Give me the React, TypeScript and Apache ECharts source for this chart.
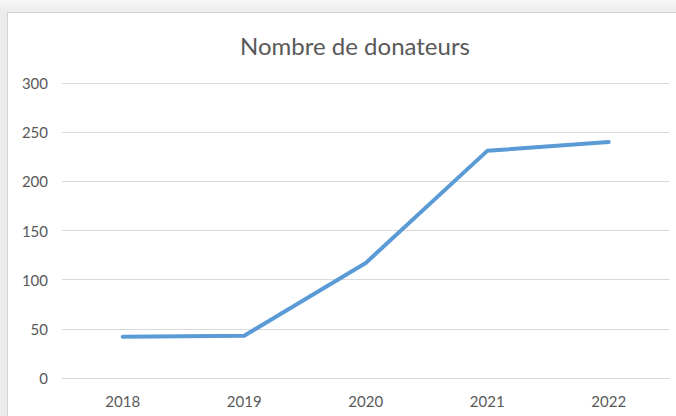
import React, { useEffect, useRef } from "react";
import * as echarts from "echarts";

const categories = ["2018", "2019", "2020", "2021", "2022"];
const donateurs = [42, 43, 117, 231, 240];
const yTicks = [0, 50, 100, 150, 200, 250, 300];

export default function App() {
  const ref = useRef<HTMLDivElement>(null);
  useEffect(() => {
    if (!ref.current) return;
    const chart = echarts.init(ref.current, null, { renderer: "svg" });
    chart.setOption({
      animation: false,
      title: {
        text: "Nombre de donateurs",
        left: 350,
        textAlign: "center",
        top: 28,
        textStyle: { color: "#595959", fontSize: 24, fontWeight: "normal", fontFamily: "Lato" },
      },
      grid: { left: 62, right: 6.5, top: 83, bottom: 38 },
      xAxis: {
        type: "category",
        data: categories,
        boundaryGap: true,
        axisLine: { show: true, lineStyle: { color: "#d9d9d9", width: 1 } },
        axisTick: { show: false },
        axisLabel: { color: "#595959", fontSize: 15, fontFamily: "Lato", margin: 15 },
      },
      yAxis: {
        type: "value",
        min: yTicks[0],
        max: yTicks[yTicks.length - 1],
        interval: 50,
        axisLine: { show: false },
        axisTick: { show: false },
        splitLine: { lineStyle: { color: "#d9d9d9", width: 1 } },
        axisLabel: { color: "#595959", fontSize: 15, fontFamily: "Lato", margin: 14 },
      },
      series: [
        {
          type: "line",
          data: donateurs,
          symbol: "none",
          lineStyle: { color: "#5b9bd5", width: 4, cap: "round", join: "round" },
        },
      ],
    });
    return () => chart.dispose();
  }, []);
  return (
    <div
      style={{
        position: "fixed",
        left: 0,
        top: 0,
        width: 676,
        height: 416,
        background: "linear-gradient(to bottom, #f7f7f7, #ececec 12px)",
        overflow: "hidden",
      }}
    >
      <div
        style={{
          position: "absolute",
          left: 7,
          top: 12,
          width: 700,
          height: 420,
          background: "#ffffff",
          borderLeft: "1px solid #d4d4d4",
          borderTop: "1px solid #d4d4d4",
        }}
      />
      <div ref={ref} style={{ position: "absolute", left: 0, top: 0, width: 676, height: 416 }} />
    </div>
  );
}
